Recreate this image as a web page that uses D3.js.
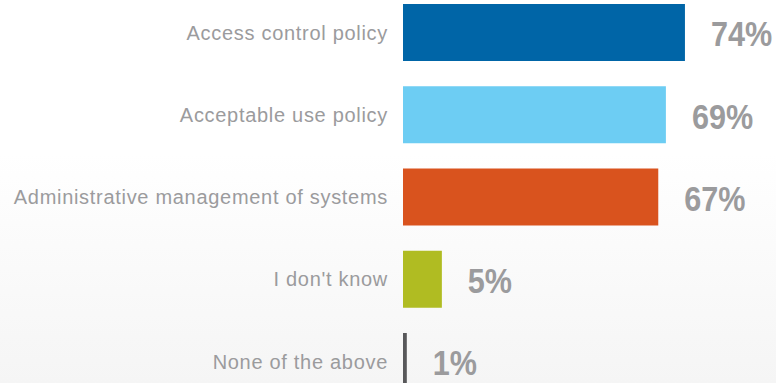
<!DOCTYPE html>
<html>
<head>
<meta charset="utf-8">
<script src="https://cdn.jsdelivr.net/npm/d3@7"></script>
<style>
  html, body { margin: 0; padding: 0; }
  body { width: 776px; height: 383px; overflow: hidden; }
</style>
</head>
<body>
<div id="chart"></div>
<script>
// categories, bar lengths (as drawn) and the labels printed next to them
const categories = ['Access control policy', 'Acceptable use policy', 'Administrative management of systems', "I don't know", 'None of the above']
const values = [74, 69, 67, 10.2, 1]
const valueLabels = ['74%', '69%', '67%', '5%', '1%']
const colors = ['#0065a7', '#6dcdf3', '#d9531e', '#b0bc22', '#58585a']

const width = 776, height = 383

const svg = d3.select('#chart').append('svg')
    .attr('width', width)
    .attr('height', height)

// soft grey fade at the bottom of the background
const grad = svg.append('defs').append('linearGradient')
    .attr('id', 'bg')
    .attr('x1', 0).attr('y1', 0).attr('x2', 0).attr('y2', 1)
grad.append('stop').attr('offset', '0%').attr('stop-color', '#ffffff')
grad.append('stop').attr('offset', '40%').attr('stop-color', '#ffffff')
grad.append('stop').attr('offset', '100%').attr('stop-color', '#f5f5f5')

svg.append('rect')
    .attr('width', width)
    .attr('height', height)
    .attr('fill', 'url(#bg)')

const x = d3.scaleLinear()
    .domain([0, 100])
    .range([403, 784])

const y = d3.scaleBand()
    .domain(categories)
    .range([4, 390])
    .paddingInner(0.307)
    .paddingOuter(0)

svg.selectAll('.bar')
    .data(categories)
    .enter().append('rect')
    .attr('class', 'bar')
    .attr('x', x(0))
    .attr('y', d => y(d))
    .attr('width', (d, i) => x(values[i]) - x(0))
    .attr('height', y.bandwidth())
    .attr('fill', (d, i) => colors[i])

// category axis on the left, no line or ticks
const yAxis = svg.append('g')
    .attr('transform', 'translate(' + (x(0) - 15) + ',0)')
    .call(d3.axisLeft(y).tickSize(0).tickPadding(0))
yAxis.select('.domain').remove()
yAxis.selectAll('text')
    .attr('fill', '#9b9b9d')
    .attr('dy', '0.36em')
    .style('font-family', '"Liberation Sans", Arial, sans-serif')
    .style('font-size', '20px')
    .style('letter-spacing', '0.7px')

// value labels, bold and squeezed a bit
svg.selectAll('.value')
    .data(categories)
    .enter().append('text')
    .attr('class', 'value')
    .attr('transform', (d, i) => 'translate(' + (x(values[i]) + 26) + ',' + (y(d) + y.bandwidth() / 2 + 1) + ') scale(0.85,1)')
    .attr('dy', '0.36em')
    .attr('fill', '#9b9b9d')
    .style('font-family', '"Liberation Sans", Arial, sans-serif')
    .style('font-weight', 'bold')
    .style('font-size', '36px')
    .text((d, i) => valueLabels[i])
</script>
</body>
</html>
